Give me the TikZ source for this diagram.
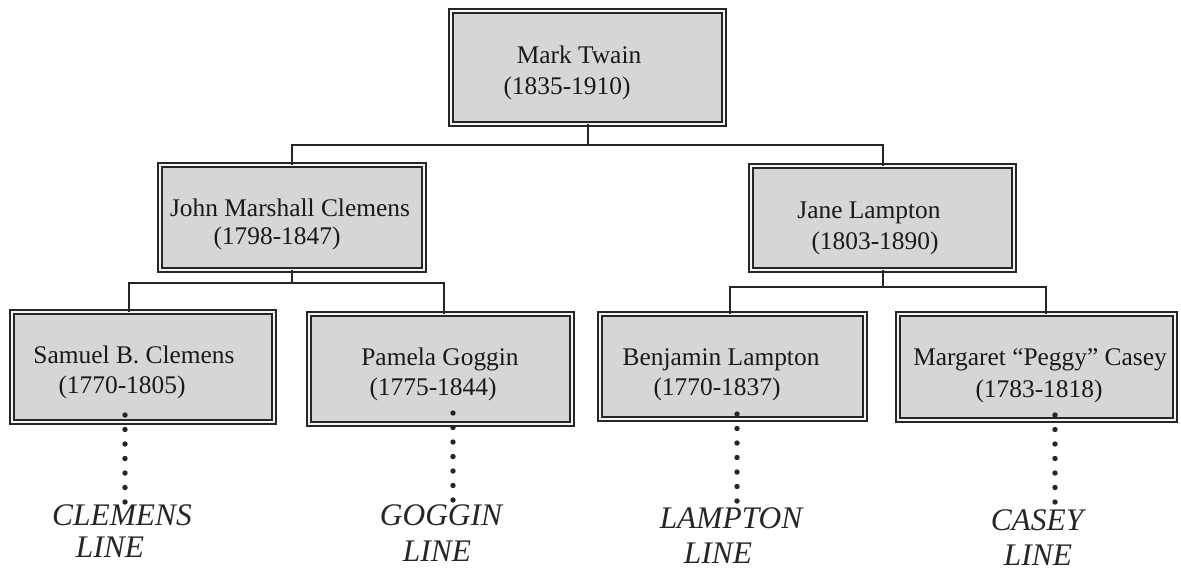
\documentclass[tikz,border=0pt]{standalone}
\usepackage{fontspec}
\setmainfont{Liberation Serif}
\begin{document}
\begin{tikzpicture}[x=0.5pt,y=-0.5pt,
  box/.style={rectangle, draw=black!85, line width=0.8pt, double=black!4, double distance=1.4pt, fill=black!16, inner sep=0pt, outer sep=0pt},
  txt/.style={anchor=base, inner sep=0pt, font=\fontsize{12.7}{15}\selectfont, text=black!90},
  lbl/.style={anchor=base, inner sep=0pt, font=\fontsize{15.7}{18}\selectfont\itshape, text=black!85},
  conn/.style={draw=black!85, line width=1pt},
  dots/.style={draw=black!85, line width=2.7pt, line cap=round, dash pattern=on 0pt off 7.25pt}]
\fill[white] (0,0) rectangle (1181,569);
\useasboundingbox (0,0) rectangle (1181,569);

% boxes
\node[box, minimum width=136.5pt, minimum height=56.5pt] (mt)  at (587.5,67.5) {};
\node[box, minimum width=132pt,   minimum height=52.5pt] (jmc) at (292,217.5) {};
\node[box, minimum width=131.5pt, minimum height=52pt]   (jl)  at (882.5,218) {};
\node[box, minimum width=131pt,   minimum height=55pt]   (sbc) at (143,367) {};
\node[box, minimum width=131.5pt, minimum height=55pt]   (pg)  at (440.5,369) {};
\node[box, minimum width=132.5pt, minimum height=52.5pt] (bl)  at (732.5,366.5) {};
\node[box, minimum width=138.5pt, minimum height=53pt]   (mc)  at (1036.5,367) {};

% connectors
\draw[conn] (mt.south) -- ++(0,21) coordinate (bus1);
\draw[conn] (jmc.north) |- (bus1) -| (jl.north);
\draw[conn] (jmc.south) -- ++(0,13) coordinate (bus2);
\draw[conn] ([xshift=-7pt]sbc.north) |- (bus2) -| ([xshift=1.75pt]pg.north);
\draw[conn] (jl.south) -- ++(0,17) coordinate (bus3);
\draw[conn] ([xshift=-1.25pt]bl.north) |- (bus3) -| ([xshift=4.75pt]mc.north);

% texts
\node[txt] (t1a) at (579,63) {Mark Twain};
\node[txt] (t1b) at (567,94) {(1835-1910)};
\node[txt] (t2a) at (290,216) {John Marshall Clemens};
\node[txt] (t2b) at (277,244) {(1798-1847)};
\node[txt] (t3a) at (869,218) {Jane Lampton};
\node[txt] (t3b) at (875,249) {(1803-1890)};
\node[txt] (t4a) at (134,363) {Samuel B. Clemens};
\node[txt] (t4b) at (122,393) {(1770-1805)};
\node[txt] (t5a) at (440,365) {Pamela Goggin};
\node[txt] (t5b) at (433,395) {(1775-1844)};
\node[txt] (t6a) at (721,365) {Benjamin Lampton};
\node[txt] (t6b) at (717,395) {(1770-1837)};
\node[txt] (t7a) at (1040,365) {Margaret “Peggy” Casey};
\node[txt] (t7b) at (1039,397) {(1783-1818)};

% dotted lines
\coordinate (d1a) at (125,415);  \coordinate (d1b) at (125,502.5);
\coordinate (d2a) at (453,413);  \coordinate (d2b) at (453,500.5);
\coordinate (d3a) at (737,414);  \coordinate (d3b) at (737,501.5);
\coordinate (d4a) at (1055,415); \coordinate (d4b) at (1055,502.5);
\draw[dots] (d1a) -- (d1b);
\draw[dots] (d2a) -- (d2b);
\draw[dots] (d3a) -- (d3b);
\draw[dots] (d4a) -- (d4b);

% line labels
\node[lbl] (l1a) at (122,525) {CLEMENS};
\node[lbl] (l1b) at (110,557) {LINE};
\node[lbl] (l2a) at (441,525) {GOGGIN};
\node[lbl] (l2b) at (437,561) {LINE};
\node[lbl] (l3a) at (731,528) {LAMPTON};
\node[lbl] (l3b) at (718,563) {LINE};
\node[lbl] (l4a) at (1037,530) {CASEY};
\node[lbl] (l4b) at (1038,565) {LINE};
\end{tikzpicture}
\end{document}
